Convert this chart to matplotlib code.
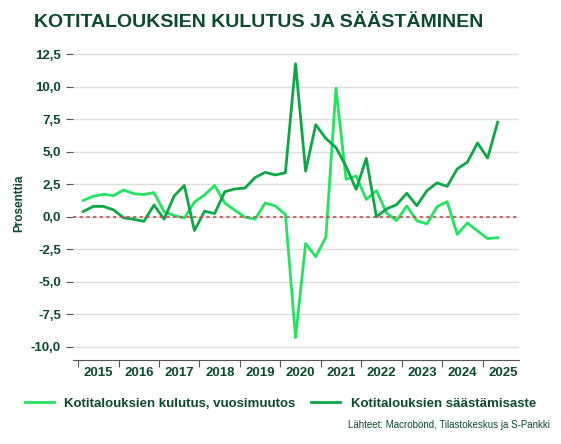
import matplotlib
matplotlib.use("Agg")
import matplotlib.pyplot as plt
import numpy as np

plt.rcParams['font.family'] = ['Liberation Sans', 'DejaVu Sans']

consumption = [1.26,1.58,1.73,1.63,2.06,1.78,1.71,1.86,0.38,0.10,-0.10,1.13,1.68,2.41,1.06,0.50,-0.03,-0.18,1.06,0.83,0.18,-9.30,-2.06,-3.07,-1.58,9.90,2.89,3.14,1.33,2.01,0.30,-0.30,0.83,-0.30,-0.55,0.78,1.16,-1.36,-0.48,-1.08,-1.68,-1.61]
saving = [0.40,0.80,0.80,0.53,-0.08,-0.20,-0.35,0.90,-0.18,1.61,2.41,-1.06,0.43,0.25,1.93,2.14,2.21,3.02,3.42,3.22,3.39,11.78,3.52,7.09,6.03,5.33,3.87,2.11,4.50,0.00,0.60,0.93,1.81,0.85,2.01,2.61,2.34,3.69,4.20,5.68,4.52,7.29]
years = list(range(2015, 2026))
yticks = [12.5,10,7.5,5,2.5,0,-2.5,-5,-7.5,-10]

txt = '#0b4a2c'
c_light = '#22e45e'
c_dark = '#0ba845'

fig = plt.figure(figsize=(5.61,4.44), dpi=100)
ax = fig.add_axes([0.13, 0.19, 0.795, 0.705])
x = 2015 + (np.arange(len(consumption)) + 0.5) / 4
ax.plot(x, consumption, color=c_light, lw=2, label='Kotitalouksien kulutus, vuosimuutos')
ax.plot(x, saving, color=c_dark, lw=2, label='Kotitalouksien säästämisaste')
ax.axhline(0, color='#c0504d', ls=(0,(2,2)), lw=1.2)
ax.set_xlim(2015 - 0.13, 2026 - 0.1)
ax.set_ylim(-11.0, 13.1)
ax.set_yticks(yticks)
ax.set_yticklabels([f"{v:.1f}".replace('.', ',') for v in yticks], fontweight='bold', color=txt, fontsize=9.5)
ax.yaxis.grid(True, color='#dddddd', lw=1)
ax.set_axisbelow(True)
ax.set_xticks(years)
ax.set_xticklabels([])
ax.set_xticks([y + 0.5 for y in years], minor=True)
ax.set_xticklabels([str(y) for y in years], minor=True, fontweight='bold', color=txt, fontsize=9.5)
ax.tick_params(axis='x', which='minor', length=0, pad=5)
ax.tick_params(axis='x', which='major', length=5, color='#555555')
ax.tick_params(axis='y', length=5, color='#555555')
for s in ['top','right','left']:
    ax.spines[s].set_visible(False)
ax.spines['bottom'].set_color('#555555')
ax.set_ylabel('Prosenttia', fontweight='bold', color=txt, fontsize=8.5)
fig.text(0.06, 0.95, 'KOTITALOUKSIEN KULUTUS JA SÄÄSTÄMINEN', fontweight='bold', color=txt, fontsize=14, va='center')
fig.legend(loc='lower center', bbox_to_anchor=(0.5, 0.05), ncol=2, frameon=False,
           prop={'weight':'bold','size':9.5}, labelcolor=txt, handlelength=2.2, columnspacing=1.2)
fig.text(0.98, 0.035, 'Lähteet: Macrobond, Tilastokeskus ja S-Pankki', ha='right', color=txt, fontsize=7)
fig.savefig('out.png', dpi=100)
